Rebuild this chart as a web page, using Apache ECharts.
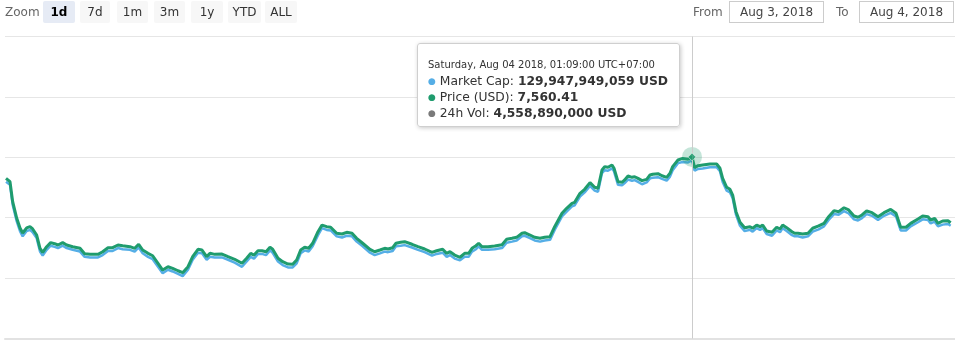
<!DOCTYPE html>
<html><head><meta charset="utf-8">
<script src="https://cdn.jsdelivr.net/npm/echarts@6/dist/echarts.min.js"></script>
<style>
html,body{margin:0;padding:0;background:#fff;width:955px;height:347px;overflow:hidden;font-family:"DejaVu Sans",sans-serif;}
#chart{position:absolute;left:0;top:0;width:955px;height:347px;}
.hdr{position:absolute;top:0;left:0;width:955px;height:30px;font-size:12px;z-index:5;}
.lbl{position:absolute;top:1px;height:22px;line-height:22px;color:#666;}
.btn{position:absolute;top:1px;height:22px;line-height:22px;text-align:center;background:#f7f7f7;border-radius:2px;color:#333;}
.btn.sel{background:#e6ebf5;font-weight:bold;color:#000;}
.inp{position:absolute;top:1px;height:20px;line-height:20px;border:1px solid #ccc;text-align:center;color:#444;}
</style></head>
<body>
<div id="chart"></div>
<div class="hdr" id="hdr"></div>
<script>
const zoomButtons = ['1d','7d','1m','3m','1y','YTD','ALL'];
const selectedZoom = '1d';
const fromDate = 'Aug 3, 2018';
const toDate = 'Aug 4, 2018';

const times = [
'08-03 08:00','08-03 08:06','08-03 08:10','08-03 08:16','08-03 08:21','08-03 08:25','08-03 08:31','08-03 08:36','08-03 08:40','08-03 08:46',
'08-03 08:51','08-03 08:55','08-03 09:01','08-03 09:07','08-03 09:13','08-03 09:18','08-03 09:25','08-03 09:31','08-03 09:40','08-03 09:51',
'08-03 09:58','08-03 10:06','08-03 10:13','08-03 10:18','08-03 10:25','08-03 10:33','08-03 10:40','08-03 10:48','08-03 10:55','08-03 11:06',
'08-03 11:13','08-03 11:19','08-03 11:25','08-03 11:33','08-03 11:40','08-03 11:48','08-03 11:55','08-03 12:03','08-03 12:10','08-03 12:18',
'08-03 12:25','08-03 12:33','08-03 12:40','08-03 12:48','08-03 12:54','08-03 13:01','08-03 13:06','08-03 13:13','08-03 13:24','08-03 13:33',
'08-03 13:43','08-03 13:54','08-03 14:01','08-03 14:07','08-03 14:12','08-03 14:18','08-03 14:24','08-03 14:30','08-03 14:36','08-03 14:40',
'08-03 14:48','08-03 14:55','08-03 15:03','08-03 15:10','08-03 15:16','08-03 15:22','08-03 15:28','08-03 15:34','08-03 15:40','08-03 15:48',
'08-03 15:54','08-03 16:01','08-03 16:07','08-03 16:16','08-03 16:24','08-03 16:31','08-03 16:39','08-03 16:46','08-03 16:55','08-03 17:06',
'08-03 17:13','08-03 17:21','08-03 17:28','08-03 17:33','08-03 17:40','08-03 17:45','08-03 17:52','08-03 17:58','08-03 18:09','08-03 18:18',
'08-03 18:28','08-03 18:39','08-03 18:46','08-03 18:55','08-03 19:01','08-03 19:06','08-03 19:13','08-03 19:21','08-03 19:24','08-03 19:28',
'08-03 19:34','08-03 19:39','08-03 19:45','08-03 19:49','08-03 19:54','08-03 20:03','08-03 20:13','08-03 20:24','08-03 20:31','08-03 20:39',
'08-03 20:46','08-03 20:54','08-03 20:58','08-03 21:06','08-03 21:13','08-03 21:21','08-03 21:28','08-03 21:36','08-03 21:43','08-03 21:54',
'08-03 22:01','08-03 22:09','08-03 22:13','08-03 22:21','08-03 22:28','08-03 22:36','08-03 22:43','08-03 22:48','08-03 22:54','08-03 22:58',
'08-03 23:03','08-03 23:09','08-03 23:12','08-03 23:18','08-03 23:24','08-03 23:28','08-03 23:33','08-03 23:39','08-03 23:43','08-03 23:48',
'08-03 23:54','08-04 00:01','08-04 00:06','08-04 00:10','08-04 00:18','08-04 00:24','08-04 00:31','08-04 00:36','08-04 00:40','08-04 00:48',
'08-04 00:55','08-04 01:03','08-04 01:09','08-04 01:13','08-04 01:18','08-04 01:25','08-04 01:36','08-04 01:46','08-04 01:51','08-04 01:55',
'08-04 02:01','08-04 02:06','08-04 02:10','08-04 02:15','08-04 02:21','08-04 02:28','08-04 02:36','08-04 02:40','08-04 02:46','08-04 02:51',
'08-04 02:55','08-04 03:01','08-04 03:09','08-04 03:16','08-04 03:21','08-04 03:25','08-04 03:31','08-04 03:39','08-04 03:43','08-04 03:48',
'08-04 03:55','08-04 04:03','08-04 04:10','08-04 04:19','08-04 04:27','08-04 04:34','08-04 04:42','08-04 04:49','08-04 04:57','08-04 05:04',
'08-04 05:12','08-04 05:18','08-04 05:24','08-04 05:31','08-04 05:39','08-04 05:48','08-04 05:57','08-04 06:07','08-04 06:15','08-04 06:22',
'08-04 06:30','08-04 06:37','08-04 06:48','08-04 06:55','08-04 07:03','08-04 07:07','08-04 07:13','08-04 07:18','08-04 07:25','08-04 07:33',
'08-04 07:37'];

const priceUSD = [
7539.1,7535.8,7515.9,7499.7,7489.8,7484.8,7489.8,7491.1,7488.8,7482.8,
7469.6,7465.6,7471.2,7475.2,7474.2,7472.9,7475.2,7472.9,7471.2,7469.6,
7464.2,7463.6,7463.6,7463.6,7466.2,7470.2,7470.2,7472.9,7472.2,7471.2,
7469.6,7473.6,7467.9,7464.6,7462.2,7454.7,7448.0,7451.3,7449.7,7447.3,
7445.4,7451.3,7461.3,7468.6,7467.9,7461.3,7464.6,7463.6,7463.9,7461.3,
7458.7,7454.7,7459.7,7464.6,7462.9,7467.2,7467.2,7466.2,7470.6,7468.6,
7459.7,7456.3,7454.0,7453.7,7458.0,7467.9,7470.6,7469.6,7474.6,7486.1,
7492.7,7491.1,7490.5,7484.5,7483.8,7485.5,7484.5,7479.5,7474.6,7468.6,
7466.2,7467.9,7469.6,7468.9,7470.2,7474.6,7475.6,7476.2,7473.6,7471.2,
7468.9,7465.6,7467.2,7468.6,7464.6,7466.2,7462.9,7460.7,7459.7,7464.6,
7464.6,7469.6,7472.2,7474.6,7471.2,7471.2,7471.9,7473.2,7478.5,7479.5,
7480.5,7484.5,7485.1,7482.8,7480.5,7479.5,7480.5,7481.1,7491.1,7504.4,
7509.3,7514.3,7515.3,7524.2,7528.2,7534.8,7530.2,7529.2,7547.4,7550.7,
7550.1,7552.4,7549.1,7535.8,7535.2,7537.5,7541.4,7540.1,7540.7,7539.1,
7536.8,7538.1,7542.4,7543.1,7543.7,7541.7,7540.1,7544.1,7550.7,7557.3,
7558.9,7558.0,7560.41,7549.7,7551.7,7552.4,7553.3,7553.3,7549.1,7539.1,
7530.2,7528.2,7522.5,7506.0,7495.4,7490.1,7491.1,7489.5,7492.7,7491.1,
7492.7,7486.8,7485.5,7490.5,7488.8,7492.7,7490.1,7486.1,7484.5,7484.5,
7483.8,7484.5,7489.5,7491.8,7494.4,7501.0,7507.0,7506.0,7509.9,7507.7,
7501.7,7500.4,7502.7,7506.7,7505.0,7501.0,7505.0,7508.3,7504.4,7490.5,
7490.5,7494.4,7498.7,7501.7,7501.0,7497.7,7499.4,7494.4,7496.7,7497.0,
7495.0];

// market cap, billions of USD
const marketCapB = [
129.58,129.53,129.19,128.91,128.74,128.65,128.74,128.76,128.72,128.62,
128.39,128.32,128.42,128.49,128.47,128.45,128.49,128.45,128.42,128.39,
128.30,128.29,128.29,128.29,128.33,128.40,128.40,128.45,128.43,128.42,
128.39,128.46,128.36,128.30,128.26,128.13,128.02,128.08,128.05,128.01,
127.97,128.08,128.25,128.37,128.36,128.25,128.30,128.29,128.29,128.25,
128.20,128.13,128.22,128.30,128.27,128.35,128.35,128.33,128.41,128.37,
128.22,128.16,128.12,128.12,128.19,128.36,128.41,128.39,128.48,128.67,
128.79,128.76,128.75,128.65,128.63,128.66,128.65,128.56,128.48,128.37,
128.33,128.36,128.39,128.38,128.40,128.48,128.49,128.50,128.46,128.42,
128.38,128.32,128.35,128.37,128.30,128.33,128.27,128.24,128.22,128.30,
128.30,128.39,128.43,128.48,128.42,128.42,128.43,128.45,128.54,128.56,
128.58,128.65,128.66,128.62,128.58,128.56,128.58,128.59,128.76,128.99,
129.07,129.16,129.18,129.33,129.40,129.51,129.43,129.41,129.73,129.78,
129.77,129.81,129.76,129.53,129.52,129.56,129.62,129.60,129.61,129.58,
129.54,129.57,129.64,129.65,129.66,129.63,129.60,129.67,129.78,129.90,
129.92,129.91,129.95,129.77,129.80,129.81,129.83,129.83,129.76,129.58,
129.43,129.40,129.30,129.02,128.83,128.74,128.76,128.73,128.79,128.76,
128.79,128.69,128.66,128.75,128.72,128.79,128.74,128.67,128.65,128.65,
128.63,128.65,128.73,128.77,128.82,128.93,129.03,129.02,129.08,129.04,
128.94,128.92,128.96,129.03,129.00,128.93,129.00,129.05,128.99,128.75,
128.75,128.82,128.89,128.94,128.93,128.87,128.90,128.82,128.85,128.86,
128.83];

const hoverTime = '08-04 01:09';
const hoverLabel = 'Saturday, Aug 04 2018, 01:09:00 UTC+07:00';
const hoverMarketCap = '129,947,949,059';
const hoverPrice = '7,560.41';
const hoverVolume = '4,558,890,000';
const axisStart = '08-03 07:58:30';
const axisEnd = '08-04 07:43:30';

// ---- header (HTML) ----
const hdr = document.getElementById('hdr');
const btnLeft = [43,80,117,154,191,228,265], btnWidth = [32,30,31,31,32,33,32];
let h = '<div class="lbl" style="left:5px">Zoom</div>';
zoomButtons.forEach((b, i) => {
  h += '<div class="btn' + (b === selectedZoom ? ' sel' : '') + '" style="left:' + btnLeft[i] + 'px;width:' + btnWidth[i] + 'px">' + b + '</div>';
});
h += '<div class="lbl" style="left:693px">From</div>';
h += '<div class="inp" style="left:729px;width:93px">' + fromDate + '</div>';
h += '<div class="lbl" style="left:836px">To</div>';
h += '<div class="inp" style="left:859px;width:93px">' + toDate + '</div>';
hdr.innerHTML = h;

// ---- chart ----
function toTs(s) {
  const parts = s.split(' ');
  const t = parts[1].length === 5 ? parts[1] + ':00' : parts[1];
  return new Date('2018-' + parts[0] + 'T' + t + '+07:00').getTime();
}
const ts = times.map(toTs);
const hi = times.indexOf(hoverTime);
const BLUE = '#55aee6', GREEN = '#1f9c6e', GREY = '#7a7a7a';

const chart = echarts.init(document.getElementById('chart'), null, {renderer: 'canvas'});
const tipHtml =
  '<div style="font-family:DejaVu Sans,sans-serif;color:#333;white-space:nowrap">' +
  '<div style="font-size:10px;line-height:16px">' + hoverLabel + '</div>' +
  '<div style="font-size:12.3px;line-height:16px"><span style="color:' + BLUE + ';font-size:9px;vertical-align:1px">\u25CF</span> Market Cap: <b>' + hoverMarketCap + ' USD</b></div>' +
  '<div style="font-size:12.3px;line-height:16px"><span style="color:' + GREEN + ';font-size:9px;vertical-align:1px">\u25CF</span> Price (USD): <b>' + hoverPrice + '</b></div>' +
  '<div style="font-size:12.3px;line-height:16px"><span style="color:' + GREY + ';font-size:9px;vertical-align:1px">\u25CF</span> 24h Vol: <b>' + hoverVolume + ' USD</b></div>' +
  '</div>';

chart.setOption({
  animation: false,
  grid: {left: 5, right: 0, top: 36.5, height: 302},
  tooltip: {
    trigger: 'item', triggerOn: 'none', alwaysShowContent: true,
    position: [417, 43], transitionDuration: 0,
    backgroundColor: 'rgba(255,255,255,0.97)', borderColor: '#cfcfcf', borderWidth: 1,
    padding: [13, 11, 5, 10],
    extraCssText: 'box-shadow:1px 1px 4px rgba(0,0,0,0.22);border-radius:3px;',
    formatter: () => tipHtml
  },
  xAxis: {
    type: 'time', min: toTs(axisStart), max: toTs(axisEnd),
    axisLabel: {show: false}, axisTick: {show: false}, splitLine: {show: false},
    axisLine: {show: true, lineStyle: {color: '#e2e2e2', width: 2}}
  },
  yAxis: [
    {type: 'value', min: 7380, max: 7680, interval: 60,
     axisLabel: {show: false}, axisTick: {show: false}, axisLine: {show: false},
     splitLine: {show: true, lineStyle: {color: '#e6e6e6', width: 1}}},
    {type: 'value', min: 126.9056, max: 132.062, show: false, splitLine: {show: false}}
  ],
  series: [
    {name: 'Market Cap', type: 'line', yAxisIndex: 1, symbol: 'none', z: 2,
     lineStyle: {color: BLUE, width: 2.5}, itemStyle: {color: BLUE},
     data: ts.map((t, i) => [t, marketCapB[i]])},
    {name: 'Price (USD)', type: 'line', yAxisIndex: 0, symbol: 'none', z: 3,
     lineStyle: {color: GREEN, width: 3}, itemStyle: {color: GREEN},
     data: ts.map((t, i) => [t, priceUSD[i]]),
     markLine: {silent: true, symbol: ['none', 'none'], label: {show: false},
       lineStyle: {color: '#cccccc', width: 1, type: 'solid'},
       data: [{xAxis: ts[hi]}]}},
    {name: 'halo', type: 'scatter', yAxisIndex: 0, symbolSize: 20, z: 4,
     itemStyle: {color: 'rgba(31,156,110,0.33)'}, silent: true,
     data: [[ts[hi], priceUSD[hi]]]},
    {name: 'hover', type: 'scatter', yAxisIndex: 0, symbol: 'diamond', symbolSize: 8, z: 5,
     itemStyle: {color: GREEN, borderColor: 'rgba(255,255,255,0.6)', borderWidth: 1},
     data: [[ts[hi], priceUSD[hi]]]}
  ]
});
chart.dispatchAction({type: 'showTip', seriesIndex: 3, dataIndex: 0});
</script>
</body></html>
